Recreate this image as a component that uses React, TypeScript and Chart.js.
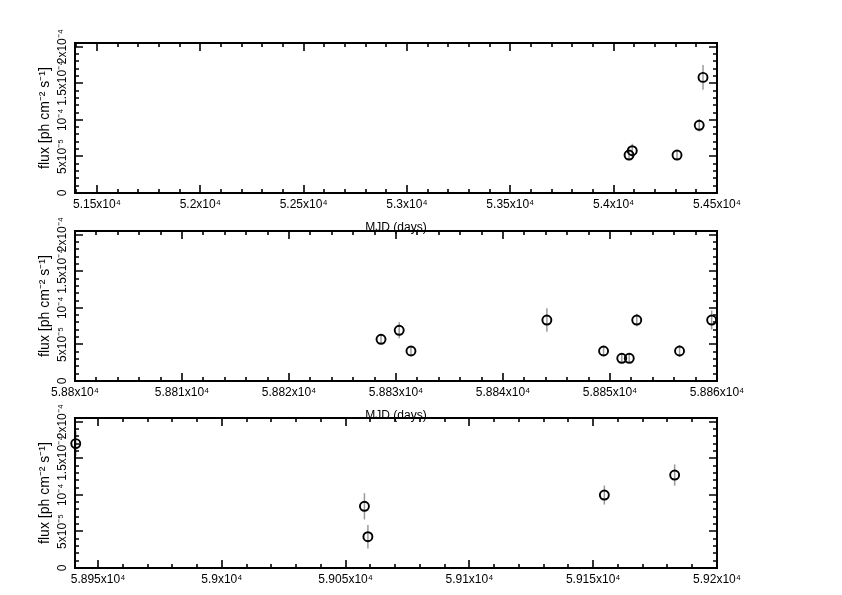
import React, { useEffect, useRef } from 'react';
import { Chart, registerables } from 'chart.js';

Chart.register(...registerables);

const FONT_FAMILY = '"Liberation Sans", Arial, Helvetica, sans-serif';
const FONT_SIZE = 12;
const Y_TITLE_SIZE = 14;

// ---------------- data ----------------
const panel1Mjd = [54074.5, 54090, 54306.6, 54414, 54432.3];
const panel1Flux = [5.19e-5, 5.78e-5, 5.19e-5, 9.25e-5, 1.58e-4];
const panel1Err = [0.7e-5, 0.95e-5, 0.65e-5, 0.85e-5, 1.7e-5];

const panel2Mjd = [58828.6, 58830.3, 58831.4, 58844.1, 58849.4, 58851.1, 58851.8, 58852.5, 58856.5, 58859.5];
const panel2Flux = [5.7e-5, 6.93e-5, 4.1e-5, 8.33e-5, 4.1e-5, 3.1e-5, 3.1e-5, 8.33e-5, 4.1e-5, 8.33e-5];
const panel2Err = [0.6e-5, 1.1e-5, 0.7e-5, 1.6e-5, 0.7e-5, 0.55e-5, 0.55e-5, 0.85e-5, 0.8e-5, 1.3e-5];

const panel3Mjd = [58941, 59057.6, 59059.0, 59154.5, 59182.9];
const panel3Flux = [1.7e-4, 8.43e-5, 4.28e-5, 9.97e-5, 1.27e-4];
const panel3Err = [1.7e-5, 1.8e-5, 1.6e-5, 1.3e-5, 1.45e-5];

// ---------------- axes ----------------
const panel1XRange = [51394, 54500];
const panel1XMinorStep = 100;
const panel1XLabelValues = [51500, 52000, 52500, 53000, 53500, 54000, 54500];
const panel1XLabels = ['5.15x10⁴', '5.2x10⁴', '5.25x10⁴', '5.3x10⁴', '5.35x10⁴', '5.4x10⁴', '5.45x10⁴'];

const panel2XRange = [58800, 58860];
const panel2XMinorStep = 2;
const panel2XLabelValues = [58800, 58810, 58820, 58830, 58840, 58850, 58860];
const panel2XLabels = ['5.88x10⁴', '5.881x10⁴', '5.882x10⁴', '5.883x10⁴', '5.884x10⁴', '5.885x10⁴', '5.886x10⁴'];

const panel3XRange = [58940.7, 59200];
const panel3XMinorStep = 10;
const panel3XLabelValues = [58950, 59000, 59050, 59100, 59150, 59200];
const panel3XLabels = ['5.895x10⁴', '5.9x10⁴', '5.905x10⁴', '5.91x10⁴', '5.915x10⁴', '5.92x10⁴'];

const yRange = [0, 2.05e-4];
const yMinorStep = 1e-5;
const yLabelValues = [0, 5e-5, 1e-4, 1.5e-4, 2e-4];
const yLabels = ['0', '5x10⁻⁵', '10⁻⁴', '1.5x10⁻⁴', '2x10⁻⁴'];

const xTitle = 'MJD (days)';
const yTitle = 'flux [ph cm⁻² s⁻¹]';

// ---------------- layout ----------------
const PAGE_W = 842;
const PAGE_H = 595;
const CANVAS_H = 240;
const PLOT_LEFT = 75;
const PLOT_RIGHT = 717;
const PLOT_TOP = 43;
const PLOT_H = 150;
const X_TITLE_GAP = 35;
const Y_LABEL_CENTER_X = 63;
const Y_TITLE_CENTER_X = 45;
const LINE_H = FONT_SIZE * 1.2;
const Y_TITLE_LINE_H = Y_TITLE_SIZE * 1.2;
const panelTops = [0, 188, 375];

interface PanelSpec {
  mjd: number[];
  flux: number[];
  err: number[];
  xRange: number[];
  xStep: number;
  xLabelValues: number[];
  xLabels: string[];
}

const panels: PanelSpec[] = [
  { mjd: panel1Mjd, flux: panel1Flux, err: panel1Err, xRange: panel1XRange, xStep: panel1XMinorStep, xLabelValues: panel1XLabelValues, xLabels: panel1XLabels },
  { mjd: panel2Mjd, flux: panel2Flux, err: panel2Err, xRange: panel2XRange, xStep: panel2XMinorStep, xLabelValues: panel2XLabelValues, xLabels: panel2XLabels },
  { mjd: panel3Mjd, flux: panel3Flux, err: panel3Err, xRange: panel3XRange, xStep: panel3XMinorStep, xLabelValues: panel3XLabelValues, xLabels: panel3XLabels },
];

function stepTicks(min: number, max: number, step: number): number[] {
  const out: number[] = [];
  const k0 = Math.ceil(min / step - 1e-6);
  const k1 = Math.floor(max / step + 1e-6);
  for (let k = k0; k <= k1; k++) out.push(k * step);
  return out;
}

function labelFor(v: number, values: number[], labels: string[], tol: number): string {
  const i = values.findIndex((u) => Math.abs(u - v) < tol);
  return i >= 0 ? labels[i] : '';
}

function measureWidest(labels: string[]): number {
  const c = document.createElement('canvas').getContext('2d')!;
  c.font = `normal ${FONT_SIZE}px ${FONT_FAMILY}`;
  return Math.max(...labels.map((l) => c.measureText(l).width));
}

const framePlugin = {
  id: 'lcFrame',
  beforeDatasetsDraw(chart: any, _args: any, opts: any) {
    const { ctx } = chart;
    const xs = chart.scales.x;
    const ys = chart.scales.y;
    ctx.save();
    ctx.strokeStyle = '#9a9a9a';
    ctx.lineWidth = 1.5;
    opts.mjd.forEach((m: number, i: number) => {
      const px = xs.getPixelForValue(m);
      const y1 = ys.getPixelForValue(opts.flux[i] - opts.err[i]);
      const y2 = ys.getPixelForValue(opts.flux[i] + opts.err[i]);
      ctx.beginPath();
      ctx.moveTo(px, y1);
      ctx.lineTo(px, y2);
      ctx.stroke();
    });
    ctx.restore();
  },
  afterDraw(chart: any, _args: any, opts: any) {
    const { ctx, chartArea } = chart;
    const { left, right, top, bottom } = chartArea;
    const xs = chart.scales.x;
    const ys = chart.scales.y;
    ctx.save();
    ctx.strokeStyle = '#000';
    ctx.lineWidth = 2;
    ctx.strokeRect(left, top, right - left, bottom - top);
    ctx.lineWidth = 1.6;
    ctx.beginPath();
    xs.ticks.forEach((t: any) => {
      const major = opts.xLabelValues.some((u: number) => Math.abs(u - t.value) < opts.xStep * 0.01);
      const len = major ? 8 : 4;
      const px = Math.round(xs.getPixelForValue(t.value));
      ctx.moveTo(px, bottom);
      ctx.lineTo(px, bottom - len);
      ctx.moveTo(px, top);
      ctx.lineTo(px, top + len);
    });
    ys.ticks.forEach((t: any) => {
      const major = yLabelValues.some((u) => Math.abs(u - t.value) < yMinorStep * 0.01);
      const len = major ? 8 : 4;
      const py = Math.round(ys.getPixelForValue(t.value));
      ctx.moveTo(left, py);
      ctx.lineTo(left + len, py);
      ctx.moveTo(right, py);
      ctx.lineTo(right - len, py);
    });
    ctx.stroke();
    ctx.restore();
  },
};

function buildConfig(p: PanelSpec): any {
  const widest = measureWidest(yLabels);
  const yTickPad = PLOT_LEFT - Y_LABEL_CENTER_X - widest / 2;
  const xAxisH = X_TITLE_GAP + LINE_H / 2;
  const padBottom = CANVAS_H - PLOT_TOP - PLOT_H - xAxisH;
  const font = { family: FONT_FAMILY, size: FONT_SIZE };
  return {
    type: 'scatter',
    data: {
      datasets: [
        {
          data: p.mjd.map((m, i) => ({ x: m, y: p.flux[i] })),
          pointStyle: 'circle',
          pointRadius: 4.5,
          pointHoverRadius: 4.5,
          borderColor: '#000',
          backgroundColor: 'rgba(0,0,0,0)',
          borderWidth: 1.9,
          clip: 6,
        },
      ],
    },
    options: {
      animation: false,
      responsive: false,
      devicePixelRatio: 1,
      events: [],
      layout: { padding: { left: 0, top: PLOT_TOP, right: PAGE_W - PLOT_RIGHT, bottom: padBottom } },
      plugins: {
        legend: { display: false },
        tooltip: { enabled: false },
        lcFrame: { mjd: p.mjd, flux: p.flux, err: p.err, xLabelValues: p.xLabelValues, xStep: p.xStep },
      },
      scales: {
        x: {
          type: 'linear',
          bounds: 'data',
          min: p.xRange[0],
          max: p.xRange[1],
          afterBuildTicks: (s: any) => {
            s.ticks = stepTicks(p.xRange[0], p.xRange[1], p.xStep).map((v) => ({ value: v }));
          },
          afterFit: (s: any) => {
            s.height = xAxisH;
          },
          grid: { display: false, drawTicks: false },
          border: { display: false },
          ticks: {
            autoSkip: false,
            minRotation: 0,
            maxRotation: 0,
            padding: 4,
            color: '#000',
            font,
            callback: (v: number) => labelFor(v, p.xLabelValues, p.xLabels, p.xStep * 0.01),
          },
          title: { display: true, text: xTitle, color: '#000', font, padding: { top: 0, bottom: 0 } },
        },
        y: {
          type: 'linear',
          bounds: 'data',
          min: yRange[0],
          max: yRange[1],
          afterBuildTicks: (s: any) => {
            s.ticks = stepTicks(yRange[0], yRange[1], yMinorStep).map((v) => ({ value: v }));
          },
          afterFit: (s: any) => {
            s.width = PLOT_LEFT;
          },
          grid: { display: false, drawTicks: false },
          border: { display: false },
          ticks: {
            autoSkip: false,
            minRotation: 90,
            maxRotation: 90,
            crossAlign: 'center',
            padding: yTickPad,
            color: '#000',
            font,
            callback: (v: number) => labelFor(v, yLabelValues, yLabels, yMinorStep * 0.01),
          },
          title: {
            display: true,
            text: yTitle,
            color: '#000',
            font: { family: FONT_FAMILY, size: Y_TITLE_SIZE },
            padding: { top: Y_TITLE_CENTER_X - Y_TITLE_LINE_H / 2, bottom: 0 },
          },
        },
      },
    },
    plugins: [framePlugin],
  };
}

function Panel({ spec, top }: { spec: PanelSpec; top: number }) {
  const ref = useRef<HTMLCanvasElement>(null);
  useEffect(() => {
    const chart = new Chart(ref.current as HTMLCanvasElement, buildConfig(spec));
    return () => chart.destroy();
  }, [spec]);
  return (
    <canvas
      ref={ref}
      width={PAGE_W}
      height={CANVAS_H}
      style={{ position: 'absolute', left: 0, top, width: PAGE_W, height: CANVAS_H }}
    />
  );
}

export default function App() {
  return (
    <div
      style={{
        position: 'absolute',
        left: 0,
        top: 0,
        width: PAGE_W,
        height: PAGE_H,
        overflow: 'hidden',
        background: '#fff',
      }}
    >
      {panels.map((p, i) => (
        <Panel key={i} spec={p} top={panelTops[i]} />
      ))}
    </div>
  );
}
